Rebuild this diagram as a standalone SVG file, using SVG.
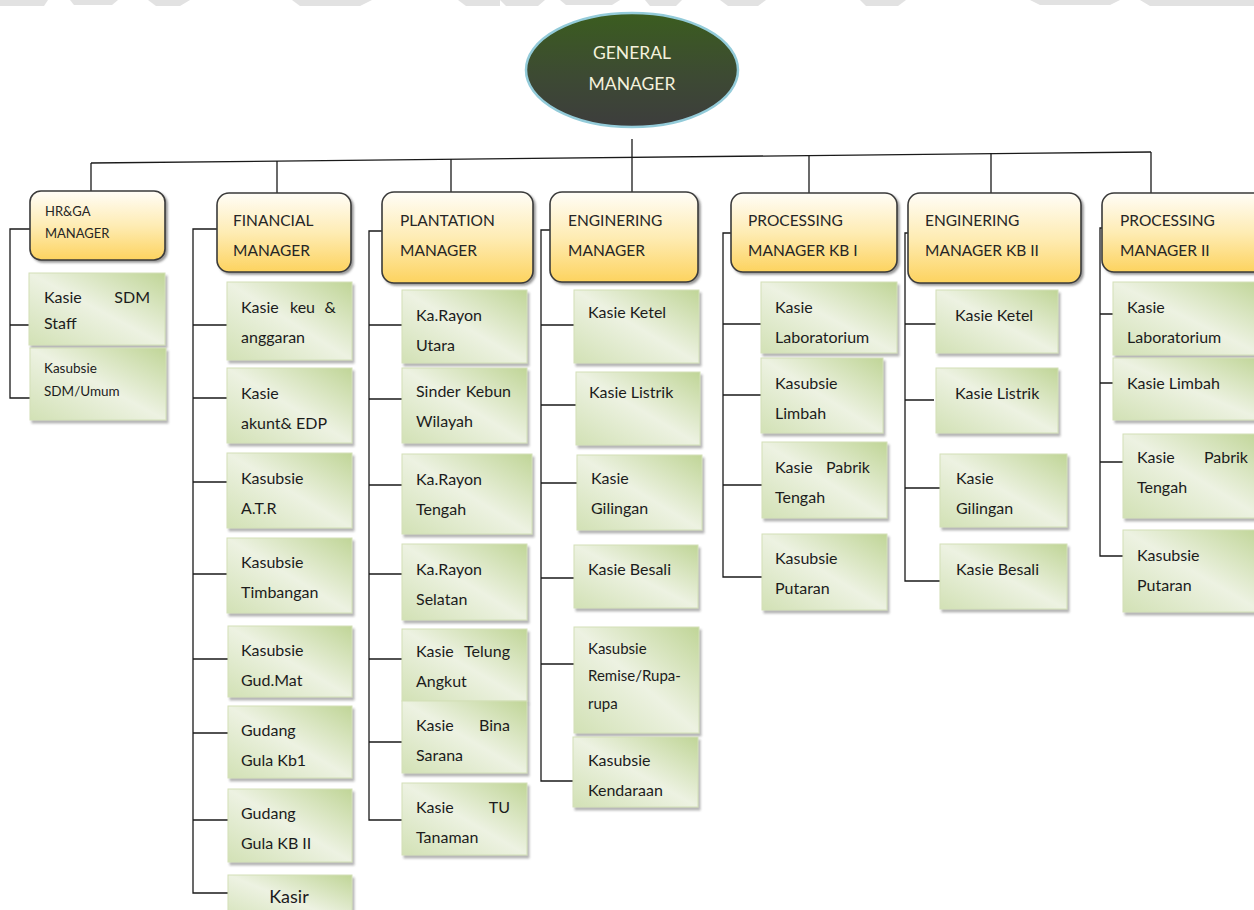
<svg xmlns="http://www.w3.org/2000/svg" width="1254" height="910" viewBox="0 0 1254 910">
<style>
.t{font-family:Lato,"Liberation Sans",sans-serif;font-size:16px;fill:#1c1c1c}
.m{font-family:Lato,"Liberation Sans",sans-serif;font-size:15.5px;fill:#262626}
.leaf{fill:url(#gg);stroke:#d3e0b8;stroke-width:1;filter:url(#sh)}
.mgr{fill:url(#og);stroke:#3a3a3a;stroke-width:1.6;filter:url(#sh2)}
.c{fill:none;stroke:#1a1a1a;stroke-width:1.3}
</style>
<defs>
<linearGradient id="gg" x1="1" y1="0" x2="0" y2="1">
<stop offset="0" stop-color="#c0d597"/>
<stop offset="0.5" stop-color="#edf2e2"/>
<stop offset="1" stop-color="#d2e1b5"/>
</linearGradient>
<linearGradient id="og" x1="0" y1="0" x2="0" y2="1">
<stop offset="0" stop-color="#fffdf7"/>
<stop offset="0.5" stop-color="#feecb4"/>
<stop offset="1" stop-color="#fdd35f"/>
</linearGradient>
<linearGradient id="eg" x1="0" y1="0" x2="0" y2="1">
<stop offset="0" stop-color="#3b5d1f"/>
<stop offset="0.55" stop-color="#3d4a33"/>
<stop offset="1" stop-color="#3d3d3d"/>
</linearGradient>
<filter id="sh" x="-10%" y="-10%" width="130%" height="140%">
<feDropShadow dx="2" dy="3" stdDeviation="1" flood-color="#7a7a7a" flood-opacity="0.55"/>
</filter>
<filter id="sh2" x="-10%" y="-10%" width="130%" height="140%">
<feDropShadow dx="2" dy="2" stdDeviation="1.2" flood-color="#555" flood-opacity="0.6"/>
</filter>
</defs>
<rect width="1254" height="910" fill="#ffffff"/>
<g id="watermark" fill="#e2e2e2">
<polygon points="0,0 48,0 44,6 0,6"/>
<polygon points="70,0 118,0 112,5 74,5"/>
<polygon points="148,0 190,0 180,6 156,6"/>
<polygon points="292,0 372,0 360,6 300,6"/>
<polygon points="458,0 500,0 500,6 466,6"/>
<polygon points="500,0 545,0 538,6 506,6"/>
<polygon points="560,0 620,0 612,5 566,5"/>
<polygon points="645,0 682,0 676,6 650,6"/>
<polygon points="720,0 766,0 758,6 728,6"/>
<polygon points="860,0 906,0 898,6 866,6"/>
<polygon points="1030,0 1120,0 1110,5 1040,5"/>
<polygon points="1140,0 1254,0 1254,6 1150,6"/>
</g>
<g id="connectors">
<path class="c" d="M91,163 L1151,152"/>
<path class="c" d="M632,139 V192"/>
<path class="c" d="M91,163 V191"/>
<path class="c" d="M277,161 V193"/>
<path class="c" d="M451,159 V192"/>
<path class="c" d="M809,155 V193"/>
<path class="c" d="M991,153 V193"/>
<path class="c" d="M1151,152 V193"/>
<path class="c" d="M30,229 H10 V398 H30 M10,325 H29"/>
<path class="c" d="M217,229 H193 V893 H228 M193,325 H227 M193,398 H227 M193,482 H227 M193,574 H227 M193,659 H228 M193,733 H228 M193,820 H228"/>
<path class="c" d="M382,231 H369 V820 H402 M369,325 H402 M369,399 H402 M369,485 H402 M369,574 H402 M369,659 H402 M369,742 H402"/>
<path class="c" d="M550,230 H541 V781 H573 M541,325 H574 M541,405 H576 M541,483 H577 M541,578 H574 M541,664 H574"/>
<path class="c" d="M731,233 H723 V577 H762 M723,324 H761 M723,395 H761 M723,485 H762"/>
<path class="c" d="M908,233 H905 V581 H940 M905,324 H936 M905,400 H934 M905,488 H940"/>
<path class="c" d="M1102,228 H1100 V556 H1123 M1100,314 H1113 M1100,383 H1113 M1100,462 H1123"/>
</g>
<g id="gm">
<ellipse cx="632" cy="70" rx="106" ry="57" fill="url(#eg)" stroke="#93cbd9" stroke-width="2.5"/>
<text x="632" y="59" text-anchor="middle" style="font-family:Lato,'Liberation Sans',sans-serif;font-size:17.5px;fill:#f4f1dc">GENERAL</text>
<text x="632" y="90" text-anchor="middle" style="font-family:Lato,'Liberation Sans',sans-serif;font-size:17.5px;fill:#f4f1dc">MANAGER</text>
</g>
<g id="hrga">
<rect class="mgr" x="30" y="191" width="135" height="69" rx="11"/>
<text class="m" x="45" y="216" style="font-size:13px">HR&amp;GA</text>
<text class="m" x="45" y="238" style="font-size:13px">MANAGER</text>
</g>
<g id="financial">
<rect class="mgr" x="217" y="193" width="134" height="79" rx="12"/>
<text class="m" x="233" y="226">FINANCIAL</text>
<text class="m" x="233" y="256">MANAGER</text>
</g>
<g id="plantation">
<rect class="mgr" x="382" y="192" width="151" height="91" rx="12"/>
<text class="m" x="400" y="226">PLANTATION</text>
<text class="m" x="400" y="256">MANAGER</text>
</g>
<g id="enginering">
<rect class="mgr" x="550" y="192" width="148" height="90" rx="12"/>
<text class="m" x="568" y="226">ENGINERING</text>
<text class="m" x="568" y="256">MANAGER</text>
</g>
<g id="processing-kb1">
<rect class="mgr" x="731" y="193" width="166" height="79" rx="12"/>
<text class="m" x="748" y="226">PROCESSING</text>
<text class="m" x="748" y="256">MANAGER KB I</text>
</g>
<g id="enginering-kb2">
<rect class="mgr" x="908" y="193" width="173" height="90" rx="12"/>
<text class="m" x="925" y="226">ENGINERING</text>
<text class="m" x="925" y="256">MANAGER KB II</text>
</g>
<g id="processing-2">
<rect class="mgr" x="1102" y="193" width="170" height="79" rx="12"/>
<text class="m" x="1120" y="226">PROCESSING</text>
<text class="m" x="1120" y="256">MANAGER II</text>
</g>

<g id="hr-1"><rect class="leaf" x="29" y="273" width="136" height="72"/>
<text class="t" x="44" y="303">Kasie</text><text class="t" x="150" y="303" text-anchor="end">SDM</text><text class="t" x="44" y="329">Staff</text></g>
<g id="hr-2"><rect class="leaf" x="30" y="348" width="136" height="72"/>
<text class="t" x="44" y="373" style="font-size:13.5px">Kasubsie</text><text class="t" x="44" y="396" style="font-size:13.5px">SDM/Umum</text></g>

<g id="fin-1"><rect class="leaf" x="227" y="282" width="125" height="78"/>
<text class="t" x="241" y="313">Kasie</text><text class="t" x="290" y="313">keu</text><text class="t" x="336" y="313" text-anchor="end">&amp;</text><text class="t" x="241" y="343">anggaran</text></g>
<g id="fin-2"><rect class="leaf" x="227" y="368" width="125" height="75"/>
<text class="t" x="241" y="399">Kasie</text><text class="t" x="241" y="429">akunt&amp; EDP</text></g>
<g id="fin-3"><rect class="leaf" x="227" y="453" width="125" height="75"/>
<text class="t" x="241" y="484">Kasubsie</text><text class="t" x="241" y="514">A.T.R</text></g>
<g id="fin-4"><rect class="leaf" x="227" y="538" width="125" height="75"/>
<text class="t" x="241" y="568">Kasubsie</text><text class="t" x="241" y="598">Timbangan</text></g>
<g id="fin-5"><rect class="leaf" x="228" y="626" width="124" height="71"/>
<text class="t" x="241" y="656">Kasubsie</text><text class="t" x="241" y="686">Gud.Mat</text></g>
<g id="fin-6"><rect class="leaf" x="228" y="706" width="124" height="72"/>
<text class="t" x="241" y="736">Gudang</text><text class="t" x="241" y="766">Gula Kb1</text></g>
<g id="fin-7"><rect class="leaf" x="228" y="789" width="124" height="73"/>
<text class="t" x="241" y="819">Gudang</text><text class="t" x="241" y="849">Gula KB II</text></g>
<g id="fin-8"><rect class="leaf" x="228" y="875" width="124" height="50"/>
<text class="t" x="289" y="903" text-anchor="middle" style="font-size:18px">Kasir</text></g>

<g id="pl-1"><rect class="leaf" x="402" y="290" width="125" height="73"/>
<text class="t" x="416" y="321">Ka.Rayon</text><text class="t" x="416" y="351">Utara</text></g>
<g id="pl-2"><rect class="leaf" x="402" y="368" width="125" height="75"/>
<text class="t" x="416" y="397">Sinder</text><text class="t" x="511" y="397" text-anchor="end">Kebun</text><text class="t" x="416" y="427">Wilayah</text></g>
<g id="pl-3"><rect class="leaf" x="402" y="454" width="130" height="80"/>
<text class="t" x="416" y="485">Ka.Rayon</text><text class="t" x="416" y="515">Tengah</text></g>
<g id="pl-4"><rect class="leaf" x="402" y="544" width="125" height="76"/>
<text class="t" x="416" y="575">Ka.Rayon</text><text class="t" x="416" y="605">Selatan</text></g>
<g id="pl-5"><rect class="leaf" x="402" y="629" width="125" height="72"/>
<text class="t" x="416" y="657">Kasie</text><text class="t" x="510" y="657" text-anchor="end">Telung</text><text class="t" x="416" y="687">Angkut</text></g>
<g id="pl-6"><rect class="leaf" x="402" y="701" width="125" height="72"/>
<text class="t" x="416" y="731">Kasie</text><text class="t" x="510" y="731" text-anchor="end">Bina</text><text class="t" x="416" y="761">Sarana</text></g>
<g id="pl-7"><rect class="leaf" x="402" y="783" width="125" height="72"/>
<text class="t" x="416" y="813">Kasie</text><text class="t" x="510" y="813" text-anchor="end">TU</text><text class="t" x="416" y="843">Tanaman</text></g>

<g id="en-1"><rect class="leaf" x="574" y="290" width="125" height="73"/>
<text class="t" x="588" y="318">Kasie Ketel</text></g>
<g id="en-2"><rect class="leaf" x="576" y="372" width="124" height="73"/>
<text class="t" x="589" y="398">Kasie Listrik</text></g>
<g id="en-3"><rect class="leaf" x="577" y="455" width="125" height="75"/>
<text class="t" x="591" y="484">Kasie</text><text class="t" x="591" y="514">Gilingan</text></g>
<g id="en-4"><rect class="leaf" x="574" y="545" width="124" height="63"/>
<text class="t" x="588" y="575">Kasie Besali</text></g>
<g id="en-5"><rect class="leaf" x="574" y="627" width="125" height="106"/>
<text class="t" x="588" y="654" style="font-size:15px">Kasubsie</text><text class="t" x="588" y="681" style="font-size:15px">Remise/Rupa-</text><text class="t" x="588" y="709" style="font-size:15px">rupa</text></g>
<g id="en-6"><rect class="leaf" x="573" y="737" width="125" height="70"/>
<text class="t" x="588" y="766">Kasubsie</text><text class="t" x="588" y="796">Kendaraan</text></g>

<g id="p1-1"><rect class="leaf" x="761" y="282" width="136" height="71"/>
<text class="t" x="775" y="313">Kasie</text><text class="t" x="775" y="343">Laboratorium</text></g>
<g id="p1-2"><rect class="leaf" x="761" y="358" width="122" height="75"/>
<text class="t" x="775" y="389">Kasubsie</text><text class="t" x="775" y="419">Limbah</text></g>
<g id="p1-3"><rect class="leaf" x="762" y="442" width="125" height="76"/>
<text class="t" x="775" y="473">Kasie</text><text class="t" x="870" y="473" text-anchor="end">Pabrik</text><text class="t" x="775" y="503">Tengah</text></g>
<g id="p1-4"><rect class="leaf" x="762" y="534" width="125" height="76"/>
<text class="t" x="775" y="564">Kasubsie</text><text class="t" x="775" y="594">Putaran</text></g>

<g id="e2-1"><rect class="leaf" x="936" y="290" width="122" height="63"/>
<text class="t" x="955" y="321">Kasie Ketel</text></g>
<g id="e2-2"><rect class="leaf" x="936" y="368" width="122" height="65"/>
<text class="t" x="955" y="399">Kasie Listrik</text></g>
<g id="e2-3"><rect class="leaf" x="940" y="454" width="127" height="73"/>
<text class="t" x="956" y="484">Kasie</text><text class="t" x="956" y="514">Gilingan</text></g>
<g id="e2-4"><rect class="leaf" x="940" y="544" width="127" height="65"/>
<text class="t" x="956" y="575">Kasie Besali</text></g>

<g id="p2-1"><rect class="leaf" x="1113" y="282" width="150" height="73"/>
<text class="t" x="1127" y="313">Kasie</text><text class="t" x="1127" y="343">Laboratorium</text></g>
<g id="p2-2"><rect class="leaf" x="1113" y="358" width="150" height="62"/>
<text class="t" x="1127" y="389">Kasie Limbah</text></g>
<g id="p2-3"><rect class="leaf" x="1123" y="434" width="140" height="84"/>
<text class="t" x="1137" y="463">Kasie</text><text class="t" x="1248" y="463" text-anchor="end">Pabrik</text><text class="t" x="1137" y="493">Tengah</text></g>
<g id="p2-4"><rect class="leaf" x="1123" y="530" width="140" height="82"/>
<text class="t" x="1137" y="561">Kasubsie</text><text class="t" x="1137" y="591">Putaran</text></g>
</svg>
